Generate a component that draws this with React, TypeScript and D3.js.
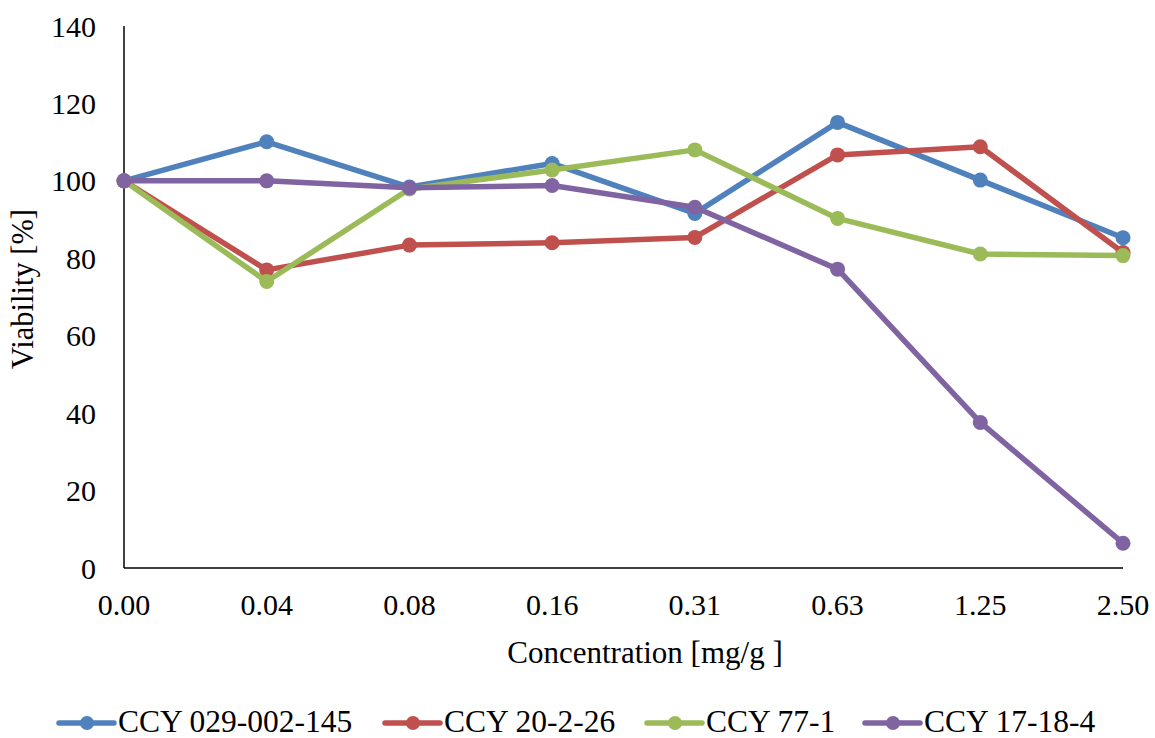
import React from "react";
import * as d3 from "d3";

const categories = ["0.00", "0.04", "0.08", "0.16", "0.31", "0.63", "1.25", "2.50"];
const seriesNames = ["CCY 029-002-145", "CCY 20-2-26", "CCY 77-1", "CCY 17-18-4"];
const seriesColors = ["#4F81BD", "#C0504D", "#9BBB59", "#8064A2"];
const ccy029 = [100, 110.1, 98.4, 104.5, 91.6, 115.1, 100.2, 85.3];
const ccy20 = [100, 77.0, 83.4, 84.0, 85.4, 106.7, 108.8, 81.5];
const ccy77 = [100, 74.0, 97.9, 102.8, 108.0, 90.3, 81.1, 80.7];
const ccy17 = [100, 100.0, 98.2, 98.8, 93.2, 77.2, 37.6, 6.4];
const yTicks = [0, 20, 40, 60, 80, 100, 120, 140];
const legendX = [59, 385, 647, 865];

const W = 1155;
const H = 738;
const left = 124;
const right = 1123;
const top = 26;
const bottom = 568;
const font = '"Times New Roman", Times, "Liberation Serif", "DejaVu Serif", serif';

export default function App() {
  const x = d3.scalePoint<string>().domain(categories).range([left, right]).padding(0);
  const y = d3.scaleLinear().domain([0, 140]).range([bottom, top]);
  const line = d3
    .line<number>()
    .x((_, i) => x(categories[i]) as number)
    .y((d) => y(d));
  const allSeries = [ccy029, ccy20, ccy77, ccy17];
  const ts = (size: number) => ({ fontFamily: font, fontSize: size });

  return (
    <svg
      width={W}
      height={H}
      style={{ position: "absolute", left: 0, top: 0, background: "#fff", fontFamily: font }}
    >
      {yTicks.map((t) => (
        <text key={t} x={96} y={y(t)} dy="0.35em" textAnchor="end" style={ts(30)} fill="#000">
          {t}
        </text>
      ))}
      {categories.map((c) => (
        <text key={c} x={x(c)} y={615} textAnchor="middle" style={ts(30)} fill="#000">
          {c}
        </text>
      ))}
      <line x1={left} x2={left} y1={top} y2={bottom} stroke="#000" strokeWidth={1.5} />
      <line x1={left} x2={right} y1={bottom} y2={bottom} stroke="#000" strokeWidth={1.5} />
      {allSeries.map((s, k) => (
        <g key={k}>
          <path d={line(s) || ""} fill="none" stroke={seriesColors[k]} strokeWidth={5.5} strokeLinejoin="round" strokeLinecap="round" />
          {s.map((v, i) => (
            <circle key={i} cx={x(categories[i])} cy={y(v)} r={7.5} fill={seriesColors[k]} />
          ))}
        </g>
      ))}
      <text x={645} y={663} textAnchor="middle" style={ts(31)} fill="#000">
        Concentration [mg/g ]
      </text>
      <text transform={`translate(33, 289) rotate(-90)`} textAnchor="middle" style={ts(30.5)} fill="#000">
        Viability [%]
      </text>
      {seriesNames.map((n, k) => (
        <g key={n}>
          <line x1={legendX[k]} x2={legendX[k] + 55} y1={723} y2={723} stroke={seriesColors[k]} strokeWidth={5.5} strokeLinecap="round" />
          <circle cx={legendX[k] + 28} cy={723} r={7} fill={seriesColors[k]} />
          <text x={legendX[k] + 59} y={732} style={ts(31.5)} fill="#000">
            {n}
          </text>
        </g>
      ))}
    </svg>
  );
}
